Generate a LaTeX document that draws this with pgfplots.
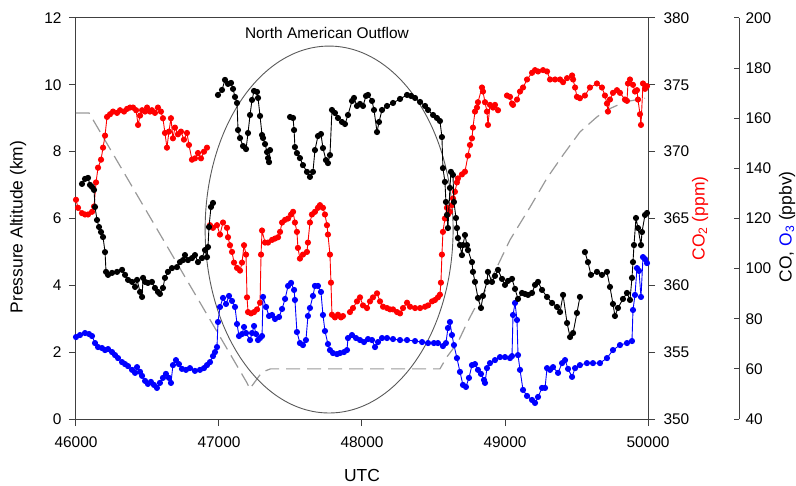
\documentclass[border=0pt]{standalone}
\usepackage{pgfplots}
\pgfplotsset{compat=1.18}
\usepackage{fontspec}
\setmainfont{Liberation Sans}
\tikzset{
  co2/.style={red, line width=0.9bp, mark=*, mark size=2.6bp, mark options={solid}},
  cos/.style={black, line width=0.9bp, mark=*, mark size=2.6bp, mark options={solid}},
  o3s/.style={blue, line width=0.9bp, mark=*, mark size=2.6bp, mark options={solid}},
}
\pgfplotsset{
  common/.style={
    scale only axis, height=401bp,
    clip=false,
    scaled ticks=false,
    axis line style={black!75, line width=1bp},
    tick style={black!75, line width=1bp},
    major tick length=7bp,
    /pgf/number format/1000 sep={},
    /pgf/number format/assume math mode=true,
    tick label style={font=\fontsize{15.5}{18}\selectfont},
    label style={font=\fontsize{17.5}{20}\selectfont},
  }
}
\begin{document}
\begin{tikzpicture}
\useasboundingbox (-76bp,-67bp) rectangle (720bp,419bp);
% ---------- Axis 1: altitude ----------
\begin{axis}[common, width=572bp,
  xmin=46000, xmax=50000, ymin=0, ymax=12,
  xtick={46000,47000,48000,49000,50000}, ytick={0,2,4,6,8,10,12},
  xticklabels={46000,47000,48000,49000,50000},
  xticklabel style={yshift=-7bp},
  yticklabel style={xshift=-4bp},
  xtick pos=left, ytick pos=left, tick align=outside,
  xlabel={UTC}, ylabel={Pressure Altitude (km)},
  xlabel style={at={(axis description cs:0.5,-0.14)}, anchor=center},
  ylabel style={at={(axis description cs:-0.101,0.479)}, anchor=center},
]
\addplot[black!40, line width=1.2bp, dash pattern=on 14bp off 7bp] coordinates {
(46000,9.16)(46091,9.16)(47196,1.08)(47215,0.9)(47300,1.4)(47360,1.5)(48545,1.5)
(48594,1.86)(48671,2.30)(48734,2.87)(48811,3.50)(48874,3.92)(48951,4.61)(49035,5.36)
(49175,6.34)(49294,7.21)(49406,7.90)(49524,8.59)(49643,9.04)(49713,9.25)(49839,9.49)(49979,9.6)};
\draw[black!65, line width=0.9bp] (axis cs:47770,5.67) ellipse [x radius=867, y radius=5.49];
\node[font=\fontsize{15.5}{18}\selectfont] at (axis cs:47755,11.55) {North American Outflow};
\end{axis}
% ---------- Axis 2: CO2 ----------
\begin{axis}[common, width=572bp,
  xmin=46000, xmax=50000, ymin=350, ymax=380,
  axis x line=none, axis y line*=right, tick align=outside,
  ytick={350,355,360,365,370,375,380},
  yticklabel style={xshift=5bp},
  ylabel={CO\textsubscript{2} (ppm)},
  ylabel style={red, at={(axis description cs:1.091,0.5)}, anchor=center},
]
\addplot[co2] coordinates {
(46000,366.4)(46014,365.8)(46042,365.4)(46063,365.3)(46084,365.3)(46112,365.5)(46126,365.9)
(46140,367.7)(46154,368.8)(46175,369.4)(46189,370.3)(46203,371.2)(46217,372.6)(46238,372.8)
(46259,373.0)(46287,372.9)(46308,373.1)(46336,373.0)(46357,373.2)(46378,373.3)(46399,373.3)
(46420,373.1)(46434,372.0)(46448,372.7)(46462,373.1)(46483,373.0)(46497,373.3)(46517,373.0)
(46531,373.1)(46552,372.9)(46573,373.3)(46594,373.0)(46608,372.5)(46622,371.4)(46636,370.3)
(46650,371.5)(46664,372.5)(46678,371.0)(46692,371.8)(46713,371.3)(46734,371.5)(46755,370.9)
(46776,371.4)(46790,370.5)(46811,369.4)(46832,369.5)(46853,369.9)(46874,369.5)(46895,370.0)
(46916,370.3)};
\addplot[co2] coordinates {
(46937,364.5)(46958,364.3)(46986,364.5)(47007,363.8)(47028,364.7)(47056,364.3)(47063,363.6)
(47077,363.0)(47091,362.5)(47105,361.7)(47126,361.3)(47147,361.1)(47161,361.7)(47175,363.0)
(47189,362.3)(47196,359.1)(47203,358.0)(47224,357.9)(47245,358.0)(47266,358.2)(47287,358.7)
(47294,362.3)(47301,364.1)(47322,363.2)(47343,363.2)(47371,363.4)(47392,363.5)(47413,363.6)
(47427,364.0)(47441,364.7)(47462,364.9)(47483,365.0)(47504,365.3)(47518,365.5)(47531,364.7)
(47545,364.0)(47552,362.8)(47566,362.0)(47587,362.3)(47615,362.5)(47622,363.2)(47636,364.7)
(47650,365.3)(47671,365.5)(47692,365.8)(47706,366.0)(47727,365.8)(47741,365.3)(47755,364.5)
(47762,363.8)(47776,362.3)(47783,360.2)(47790,357.8)(47811,357.6)(47832,357.8)(47853,357.6)
(47867,357.7)};
\addplot[co2] coordinates {
(47916,358.0)(47937,358.3)(47965,358.8)(47986,359.1)(48007,358.5)(48035,358.3)(48056,358.8)
(48077,359.1)(48105,359.4)(48126,358.8)(48147,358.4)(48175,358.3)(48196,358.2)(48217,358.2)
(48245,358.0)(48266,357.9)(48287,358.3)(48315,358.7)(48336,358.4)(48371,358.3)(48406,358.3)
(48441,358.4)(48462,358.5)(48490,358.8)(48510,358.9)(48531,359.1)(48545,359.3)(48552,360.2)
(48559,362.3)(48566,364.0)(48580,365.0)(48594,365.8)(48601,365.3)(48615,365.5)(48629,366.0)
(48636,366.5)(48650,367.0)(48664,367.7)(48671,368.0)(48699,368.3)(48720,368.5)(48741,369.7)
(48755,370.5)(48769,371.0)(48776,371.8)(48790,373.0)(48804,373.3)(48811,373.7)(48839,374.8)
(48846,374.5)(48860,373.7)(48874,373.0)(48881,372.0)(48895,373.5)(48916,373.3)(48930,373.5)
(48951,373.1)};
\addplot[co2] coordinates {
(49014,374.2)(49035,374.1)(49049,373.6)(49056,373.5)(49084,373.9)(49105,374.5)(49126,374.8)
(49154,375.4)(49189,375.9)(49210,376.1)(49231,376.0)(49266,376.1)(49294,376.0)(49315,375.4)
(49350,375.4)(49385,375.4)(49406,375.2)(49434,375.5)(49469,375.7)(49476,375.4)(49490,374.8)
(49503,374.1)(49524,374.0)(49559,374.2)(49594,374.8)(49643,375.1)(49678,374.8)(49699,374.2)
(49713,373.6)(49720,373.0)(49734,373.9)(49755,374.4)(49783,374.6)(49804,374.4)(49839,373.9)
(49853,373.8)(49860,375.1)(49874,375.4)(49895,375.0)(49909,374.5)(49923,374.6)(49930,373.9)
(49944,372.8)(49951,372.0)(49965,375.1)(49979,374.7)(49993,374.9)};
\end{axis}
% ---------- Axis 3: CO, O3 ----------
\begin{axis}[common, width=663bp,
  xmin=46000, xmax=50636.4, ymin=40, ymax=200,
  axis x line=none, axis y line*=right, tick align=inside,
  major tick length=5bp,
  ytick={40,60,80,100,120,140,160,180,200},
  yticklabel style={xshift=3bp},
  ylabel={CO, \textcolor{blue}{O\textsubscript{3}} (ppbv)},
  ylabel style={at={(axis description cs:1.0724,0.479)}, anchor=center},
]
\addplot[o3s] coordinates {
(46000,72.7)(46028,73.5)(46063,74.3)(46091,73.9)(46112,73.1)(46133,70.3)(46154,68.7)(46182,68.3)
(46203,67.5)(46224,67.9)(46252,66.7)(46273,65.5)(46294,64.3)(46322,62.7)(46343,61.9)(46364,61.1)
(46392,59.6)(46413,58.4)(46427,60.7)(46448,58.8)(46462,57.2)(46483,55.2)(46503,54.0)(46524,54.8)
(46545,53.6)(46566,52.4)(46587,54.4)(46608,56.4)(46629,58.0)(46650,56.4)(46664,54.4)(46678,61.5)
(46699,63.5)(46720,61.9)(46741,60.0)(46769,59.6)(46797,60.3)(46832,59.2)(46867,59.6)(46895,60.3)
(46916,61.5)(46937,62.7)(46958,65.1)(46972,66.7)(46986,68.7)(46993,78.7)(47007,84.7)(47028,88.3)
(47049,85.9)(47070,89.1)(47091,87.1)(47112,84.7)(47126,77.9)(47140,73.1)(47161,73.9)(47175,76.7)
(47189,74.3)(47217,71.5)(47231,74.3)(47245,77.1)(47259,73.9)(47273,71.5)(47287,72.3)(47301,73.1)
(47308,88.7)(47329,84.7)(47350,81.1)(47371,81.5)(47392,79.9)(47420,80.7)(47441,83.9)(47462,87.9)
(47483,93.1)(47504,94.3)(47525,91.5)(47531,87.5)(47545,74.7)(47566,70.3)(47587,69.5)(47608,71.5)
(47622,81.1)(47636,84.3)(47657,89.1)(47671,93.1)(47692,93.1)(47713,90.7)(47727,81.5)(47741,75.1)
(47762,69.9)(47776,67.5)(47797,66.3)(47825,65.9)(47846,66.3)(47874,66.7)(47895,67.5)(47902,72.3)
(47930,73.5)(47958,72.3)(47986,71.5)(48014,70.7)(48042,71.9)(48070,71.5)(48091,68.7)(48112,70.7)
(48140,72.3)(48175,72.3)(48217,71.9)(48266,71.5)(48315,71.5)(48371,71.1)(48420,70.7)(48462,70.3)
(48503,70.3)(48531,70.3)(48566,69.1)(48587,70.3)(48601,76.3)(48615,78.7)(48629,73.5)(48643,69.5)
(48664,64.3)(48685,58.8)(48706,53.6)(48727,52.8)(48748,56.4)(48769,61.5)(48790,61.9)(48811,59.6)
(48832,58.0)(48853,55.6)(48860,54.4)(48874,60.3)(48895,62.3)(48930,63.5)(48965,64.7)(49000,64.7)
(49035,64.3)(49049,65.1)(49056,81.5)(49070,86.3)(49084,79.5)(49091,65.5)(49105,59.6)(49126,51.6)
(49154,49.2)(49189,47.6)(49210,46.4)(49231,48.8)(49259,52.4)(49280,52.4)(49294,60.3)(49315,59.6)
(49336,60.7)(49371,58.4)(49399,62.3)(49420,63.5)(49441,60.0)(49469,56.8)(49490,60.3)(49524,61.5)
(49573,62.3)(49615,62.3)(49664,62.3)(49713,64.3)(49755,67.5)(49804,69.5)(49853,70.3)(49888,71.1)
(49895,83.5)(49909,89.5)(49923,100.2)(49937,99.1)(49951,88.7)(49965,104.6)(49979,103.8)(49993,102.2)};
\addplot[cos] coordinates {
(46042,133.8)(46063,135.8)(46084,136.2)(46098,133.4)(46112,132.6)(46126,131.4)(46133,124.6)
(46147,119.4)(46161,116.6)(46175,114.6)(46189,112.6)(46203,106.6)(46210,98.7)(46224,97.5)
(46252,98.3)(46287,98.7)(46322,99.5)(46343,97.5)(46364,95.5)(46392,94.7)(46413,92.7)(46427,95.5)
(46448,90.7)(46462,88.7)(46469,96.3)(46483,94.7)(46503,94.3)(46531,94.7)(46552,92.3)(46573,90.7)
(46587,89.9)(46608,92.3)(46622,96.3)(46643,98.7)(46671,100.2)(46706,100.6)(46727,102.6)
(46748,103.4)(46762,105.4)(46783,103.4)(46811,104.2)(46832,105.4)(46853,102.6)(46881,104.2)
(46902,107.4)(46916,104.6)(46923,108.6)(46930,116.6)(46944,124.6)(46958,126.2)};
\addplot[cos] coordinates {
(46993,169.3)(47021,171.3)(47042,175.3)(47063,173.7)(47084,174.1)(47098,171.7)(47112,168.5)
(47126,166.1)(47133,155.3)(47147,152.1)(47168,148.9)(47189,147.7)(47203,154.1)(47217,161.3)
(47231,167.3)(47245,170.9)(47266,170.5)(47273,168.1)(47287,160.9)(47301,153.3)(47308,152.1)
(47322,149.7)(47336,146.5)(47343,144.1)(47350,142.5)(47357,147.3)};
\addplot[cos] coordinates {
(47497,160.5)(47518,160.1)(47525,155.3)(47531,148.5)(47545,146.1)(47566,144.1)(47587,141.3)
(47615,138.6)(47636,136.6)(47657,138.6)(47671,147.3)(47692,152.9)(47713,153.7)(47727,148.1)
(47748,143.3)(47762,142.1)(47776,145.3)(47790,163.3)(47811,162.1)(47832,160.1)(47860,158.5)
(47881,157.7)(47902,161.3)(47930,166.9)(47944,168.1)(47965,164.9)(47986,165.7)(48007,164.9)
(48028,168.9)(48042,169.3)(48070,166.9)(48084,163.3)(48105,154.5)(48119,158.5)(48140,163.3)
(48175,164.9)(48217,166.1)(48266,167.7)(48315,169.3)(48343,168.9)(48371,168.1)(48406,166.5)
(48441,164.9)(48462,163.3)(48497,161.3)(48524,160.1)(48545,158.9)(48559,152.5)(48566,140.1)
(48580,134.6)(48587,126.6)(48594,121.4)(48601,116.2)(48615,132.2)(48622,138.6)(48636,137.4)
(48643,126.6)(48657,120.2)(48664,116.2)(48671,112.2)(48685,109.4)(48699,105.4)(48706,109.4)
(48720,113.4)(48734,109.4)(48741,107.4)(48769,102.6)(48776,98.7)(48790,94.7)(48811,88.3)
(48832,84.3)(48846,89.1)(48874,94.7)(48881,98.7)(48909,94.7)(48930,97.1)(48951,99.5)(48979,95.9)
(49000,93.5)(49021,95.1)(49049,95.9)(49070,91.9)(49091,87.9)(49119,90.3)(49140,89.9)(49161,89.5)
(49189,90.3)(49210,93.5)(49231,94.7)(49259,91.5)(49294,88.7)(49329,86.3)(49364,84.7)(49385,82.7)
(49406,89.5)(49434,78.3)(49455,72.7)(49476,74.3)(49503,82.3)(49524,88.7)};
\addplot[cos] coordinates {
(49559,106.6)(49580,102.6)(49601,97.5)(49643,98.7)(49678,97.5)(49713,98.7)(49734,92.7)(49755,85.9)
(49769,81.1)(49790,84.3)(49825,87.9)(49853,90.3)(49874,87.5)(49888,96.3)(49895,102.6)(49902,109.4)
(49916,120.2)(49930,116.2)(49951,109.4)(49958,114.6)(49979,121.4)(49993,122.2)};
\end{axis}
\end{tikzpicture}
\end{document}
